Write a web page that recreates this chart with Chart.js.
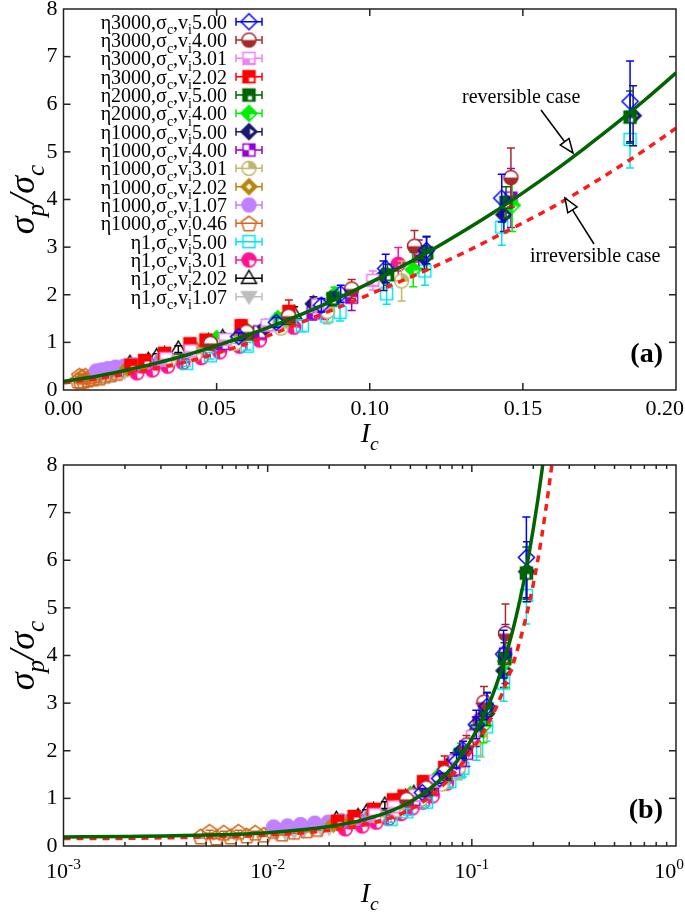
<!DOCTYPE html>
<html><head><meta charset="utf-8">
<script src="https://cdn.jsdelivr.net/npm/chart.js@4.4.0/dist/chart.umd.min.js"></script>
<style>
html,body{margin:0;padding:0;background:#fff;}
#wrap{position:relative;width:685px;height:912px;overflow:hidden;}
canvas{position:absolute;left:0;}
#c1{top:0;} #c2{top:456px;}
</style></head><body>
<div id="wrap"><canvas id="c1" width="685" height="456"></canvas><canvas id="c2" width="685" height="456"></canvas></div>
<script>
// ---------------- DATA ----------------
const topXTicks = [0, 0.05, 0.10, 0.15, 0.20];
const topXLabels = ['0.00', '0.05', '0.10', '0.15', '0.20'];
const yTicks = [0, 1, 2, 3, 4, 5, 6, 7, 8];
const logXMajor = [0.001, 0.01, 0.1, 1];
const logXExponents = ['-3', '-2', '-1', '0'];

const seriesEta = ['3000','3000','3000','3000','2000','2000','1000','1000','1000','1000','1000','1000','1','1','1','1'];
const seriesVi  = ['5.00','4.00','3.01','2.02','5.00','4.00','5.00','4.00','3.01','2.02','1.07','0.46','5.00','3.01','2.02','1.07'];

// model curves (reversible / irreversible)
const curveIc      = [0, 0.001, 0.002, 0.005, 0.01, 0.02, 0.03, 0.04, 0.05, 0.06, 0.07, 0.08, 0.09, 0.10, 0.11, 0.12, 0.13, 0.14, 0.15, 0.16, 0.17, 0.18, 0.19, 0.20, 0.21, 0.22, 0.23, 0.24, 0.25, 0.26];
const reversible   = [0.18, 0.19, 0.20, 0.23, 0.28, 0.41, 0.56, 0.73, 0.93, 1.15, 1.39, 1.65, 1.94, 2.25, 2.58, 2.93, 3.31, 3.71, 4.14, 4.59, 5.07, 5.57, 6.10, 6.66, 7.24, 7.85, 8.48, 9.14, 9.80, 10.5];
const irreversible = [0.15, 0.155, 0.16, 0.19, 0.23, 0.33, 0.45, 0.59, 0.77, 0.98, 1.22, 1.48, 1.74, 2.01, 2.28, 2.56, 2.86, 3.18, 3.51, 3.85, 4.23, 4.63, 5.05, 5.50, 5.98, 6.50, 7.05, 7.62, 8.20, 8.80];

// η3000, vi 5.00
const eta3000_v500_Ic  = [0.185, 0.1431, 0.1185, 0.1052, 0.0905, 0.0842, 0.0695, 0.0572];
const eta3000_v500_sig = [6.06, 4.03, 2.93, 2.55, 2.02, 1.78, 1.42, 1.12];
const eta3000_v500_err = [0.85, 0.50, 0.28, 0.30, 0.18, 0.14, 0.10, 0.08];
// η3000, vi 4.00
const eta3000_v400_Ic  = [0.1461, 0.1146, 0.0941, 0.0735, 0.0598, 0.0480];
const eta3000_v400_sig = [4.46, 3.02, 2.12, 1.55, 1.22, 0.98];
const eta3000_v400_err = [0.62, 0.33, 0.20, 0.12, 0.09, 0.07];
// η3000, vi 3.01
const eta3000_v301_Ic  = [0.1010, 0.0830, 0.0665, 0.0528, 0.0415, 0.0335];
const eta3000_v301_sig = [2.30, 1.78, 1.36, 1.06, 0.82, 0.66];
const eta3000_v301_err = [0.20, 0.14, 0.10, 0.08, 0.06, 0.05];
// η3000, vi 2.02
const eta3000_v202_Ic  = [0.0736, 0.0580, 0.0465, 0.0413, 0.0330, 0.0265, 0.0220];
const eta3000_v202_sig = [1.65, 1.35, 1.05, 0.97, 0.77, 0.62, 0.52];
const eta3000_v202_err = [0.24, 0.12, 0.09, 0.08, 0.06, 0.05, 0.04];
// η2000, vi 5.00
const eta2000_v500_Ic  = [0.1850, 0.1445, 0.1186, 0.1058, 0.0880, 0.0735, 0.0600];
const eta2000_v500_sig = [5.73, 3.94, 2.88, 2.42, 1.92, 1.50, 1.18];
const eta2000_v500_err = [0.55, 0.33, 0.35, 0.22, 0.15, 0.11, 0.08];
// η2000, vi 4.00
const eta2000_v400_Ic  = [0.1465, 0.1142, 0.0885, 0.0700, 0.0590, 0.0500];
const eta2000_v400_sig = [3.88, 2.53, 2.00, 1.50, 1.30, 1.08];
const eta2000_v400_err = [0.55, 0.36, 0.16, 0.11, 0.09, 0.08];
// η1000, vi 5.00
const eta1000_v500_Ic  = [0.1860, 0.1438, 0.1178, 0.1045, 0.0816, 0.0660];
const eta1000_v500_sig = [5.76, 3.68, 2.78, 2.40, 1.81, 1.32];
const eta1000_v500_err = [0.63, 0.35, 0.25, 0.31, 0.15, 0.10];
// η1000, vi 4.00
const eta1000_v400_Ic  = [0.1461, 0.1160, 0.0941, 0.0815, 0.0640, 0.0520];
const eta1000_v400_sig = [4.03, 2.85, 1.95, 1.62, 1.22, 0.98];
const eta1000_v400_err = [0.62, 0.30, 0.28, 0.15, 0.10, 0.08];
// η1000, vi 3.01
const eta1000_v301_Ic  = [0.1104, 0.0862, 0.0710, 0.0560, 0.0430, 0.0345];
const eta1000_v301_sig = [2.29, 1.65, 1.30, 0.98, 0.76, 0.62];
const eta1000_v301_err = [0.42, 0.25, 0.12, 0.09, 0.07, 0.05];
// η1000, vi 2.02
const eta1000_v202_Ic  = [0.0725, 0.0580, 0.0424, 0.0330, 0.0260, 0.0210];
const eta1000_v202_sig = [1.45, 1.12, 0.90, 0.68, 0.55, 0.46];
const eta1000_v202_err = [0.12, 0.09, 0.07, 0.06, 0.05, 0.04];
// η1000, vi 1.07
const eta1000_v107_Ic  = [0.0107, 0.0125, 0.0145, 0.0170, 0.0198, 0.0230, 0.0270, 0.0320];
const eta1000_v107_sig = [0.40, 0.42, 0.45, 0.48, 0.50, 0.53, 0.58, 0.64];
const eta1000_v107_err = [0.04, 0.04, 0.04, 0.04, 0.04, 0.05, 0.05, 0.05];
// η1000, vi 0.46
const eta1000_v046_Ic  = [0.0047, 0.0052, 0.0056, 0.0061, 0.0066, 0.0072, 0.0079, 0.0087, 0.0096, 0.0106, 0.0118, 0.0135, 0.0155, 0.0175];
const eta1000_v046_sig = [0.20, 0.30, 0.18, 0.28, 0.20, 0.30, 0.22, 0.28, 0.24, 0.32, 0.26, 0.30, 0.33, 0.36];
const eta1000_v046_err = [0.03, 0.03, 0.03, 0.03, 0.03, 0.03, 0.03, 0.03, 0.03, 0.03, 0.03, 0.03, 0.03, 0.03];
// η1, vi 5.00
const eta1_v500_Ic  = [0.1850, 0.1431, 0.1180, 0.1055, 0.0903, 0.0860, 0.0780, 0.0600, 0.0480, 0.0402];
const eta1_v500_sig = [5.26, 3.42, 2.50, 2.02, 1.63, 1.55, 1.35, 0.92, 0.72, 0.56];
const eta1_v500_err = [0.60, 0.38, 0.30, 0.22, 0.18, 0.16, 0.12, 0.08, 0.07, 0.06];
// η1, vi 3.01
const eta1_v301_Ic  = [0.1093, 0.0854, 0.0752, 0.0640, 0.0575, 0.0510, 0.0450, 0.0390, 0.0340, 0.0290, 0.0240];
const eta1_v301_sig = [2.64, 1.63, 1.32, 1.05, 0.92, 0.80, 0.68, 0.58, 0.50, 0.42, 0.36];
const eta1_v301_err = [0.35, 0.15, 0.12, 0.09, 0.08, 0.07, 0.06, 0.05, 0.05, 0.04, 0.04];
// η1, vi 2.02
const eta1_v202_Ic  = [0.0753, 0.0576, 0.0520, 0.0473, 0.0424, 0.0375, 0.0330, 0.0304, 0.0277, 0.0245, 0.0217];
const eta1_v202_sig = [1.60, 1.21, 1.10, 1.01, 0.92, 0.86, 0.74, 0.70, 0.62, 0.48, 0.56];
const eta1_v202_err = [0.15, 0.10, 0.09, 0.08, 0.07, 0.07, 0.06, 0.06, 0.05, 0.05, 0.05];
// η1, vi 1.07
const eta1_v107_Ic  = [0.0110, 0.0122, 0.0135, 0.0150, 0.0166, 0.0183, 0.0200, 0.0225, 0.0250];
const eta1_v107_sig = [0.26, 0.28, 0.30, 0.32, 0.34, 0.36, 0.38, 0.41, 0.44];
const eta1_v107_err = [0.03, 0.03, 0.03, 0.03, 0.03, 0.03, 0.03, 0.03, 0.03];

const seriesData = [
  [eta3000_v500_Ic, eta3000_v500_sig, eta3000_v500_err],
  [eta3000_v400_Ic, eta3000_v400_sig, eta3000_v400_err],
  [eta3000_v301_Ic, eta3000_v301_sig, eta3000_v301_err],
  [eta3000_v202_Ic, eta3000_v202_sig, eta3000_v202_err],
  [eta2000_v500_Ic, eta2000_v500_sig, eta2000_v500_err],
  [eta2000_v400_Ic, eta2000_v400_sig, eta2000_v400_err],
  [eta1000_v500_Ic, eta1000_v500_sig, eta1000_v500_err],
  [eta1000_v400_Ic, eta1000_v400_sig, eta1000_v400_err],
  [eta1000_v301_Ic, eta1000_v301_sig, eta1000_v301_err],
  [eta1000_v202_Ic, eta1000_v202_sig, eta1000_v202_err],
  [eta1000_v107_Ic, eta1000_v107_sig, eta1000_v107_err],
  [eta1000_v046_Ic, eta1000_v046_sig, eta1000_v046_err],
  [eta1_v500_Ic, eta1_v500_sig, eta1_v500_err],
  [eta1_v301_Ic, eta1_v301_sig, eta1_v301_err],
  [eta1_v202_Ic, eta1_v202_sig, eta1_v202_err],
  [eta1_v107_Ic, eta1_v107_sig, eta1_v107_err]
];

// ---------------- STYLE ----------------
const markerStyles = [
  {color:'#0000ff', shape:'diamondOpen'},
  {color:'#a52a2a', shape:'circleHalf'},
  {color:'#ee82ee', shape:'squareHalf'},
  {color:'#ff0000', shape:'squareCorner'},
  {color:'#006400', shape:'squareDot'},
  {color:'#00ee00', shape:'diamondCorner'},
  {color:'#191970', shape:'diamondRight'},
  {color:'#9400d3', shape:'squareChecker'},
  {color:'#bdb76b', shape:'circleQuarter'},
  {color:'#b8860b', shape:'diamondHole'},
  {color:'#c080ff', shape:'circleFill'},
  {color:'#d2691e', shape:'pentagonOpen'},
  {color:'#00e5ee', shape:'squareOpen'},
  {color:'#ff1493', shape:'circlePink'},
  {color:'#000000', shape:'triangleOpen'},
  {color:'#bebebe', shape:'triangleDown'}
];
const SERIF = '"Liberation Serif", "Times New Roman", serif';

function makeMarker(shape, color) {
  const S = 19, c = document.createElement('canvas');
  c.width = S; c.height = S;
  const g = c.getContext('2d');
  g.translate(S/2, S/2);
  g.lineWidth = 1.5; g.strokeStyle = color; g.fillStyle = color;
  const r = 7, q = 6;
  const diamond = (rr) => { g.beginPath(); g.moveTo(0,-rr); g.lineTo(rr,0); g.lineTo(0,rr); g.lineTo(-rr,0); g.closePath(); };
  const circle = (rr) => { g.beginPath(); g.arc(0,0,rr,0,Math.PI*2); };
  const white = '#ffffff';
  switch (shape) {
    case 'diamondOpen': diamond(8); g.stroke(); break;
    case 'circleHalf':
      g.fillStyle = white; circle(r); g.fill();
      g.fillStyle = color; g.beginPath(); g.arc(0,0,r,0,Math.PI); g.closePath(); g.fill();
      circle(r); g.stroke(); break;
    case 'squareHalf':
      g.fillStyle = white; g.fillRect(-q,-q,2*q,2*q);
      g.fillStyle = color; g.fillRect(-q,0,2*q,q);
      g.fillStyle = white; g.fillRect(1,1,q-2,q-2.5);
      g.strokeRect(-q,-q,2*q,2*q); break;
    case 'squareCorner':
      g.fillRect(-q,-q,2*q,2*q);
      g.fillStyle = white; g.fillRect(0,1,q-1,q-2);
      g.strokeRect(-q,-q,2*q,2*q); break;
    case 'squareDot':
      g.fillRect(-q,-q,2*q,2*q);
      g.fillStyle = white; g.fillRect(-1,1,q-2,q-2);
      g.strokeRect(-q,-q,2*q,2*q); break;
    case 'diamondCorner':
      diamond(8); g.fill();
      g.fillStyle = white; g.beginPath(); g.moveTo(1,1); g.lineTo(6,1); g.lineTo(1,6); g.closePath(); g.fill();
      diamond(8); g.stroke(); break;
    case 'diamondRight':
      diamond(8); g.fill();
      g.fillStyle = white; g.beginPath(); g.moveTo(1,-3); g.lineTo(5,0); g.lineTo(1,3); g.closePath(); g.fill();
      diamond(8); g.stroke(); break;
    case 'squareChecker':
      g.fillStyle = white; g.fillRect(-q,-q,2*q,2*q);
      g.fillStyle = color; g.fillRect(0,-q,q,q); g.fillRect(-q,0,q,q);
      g.strokeRect(-q,-q,2*q,2*q); break;
    case 'circleQuarter':
      g.fillStyle = white; circle(r); g.fill();
      g.fillStyle = color; g.beginPath(); g.moveTo(0,0); g.arc(0,0,r,-Math.PI/2,0); g.closePath(); g.fill();
      circle(r); g.stroke();
      g.beginPath(); g.moveTo(-r,0); g.lineTo(r,0); g.moveTo(0,0); g.lineTo(0,-r); g.stroke(); break;
    case 'diamondHole':
      diamond(8); g.fill();
      g.fillStyle = white; diamond(3); g.fill();
      diamond(8); g.stroke(); break;
    case 'circleFill': circle(r); g.fill(); circle(r); g.stroke(); break;
    case 'pentagonOpen':
      g.beginPath();
      for (let k = 0; k < 5; k++) { const a = -Math.PI/2 + k*2*Math.PI/5; const px = 8*Math.cos(a), py = 8*Math.sin(a)+0.8; k ? g.lineTo(px,py) : g.moveTo(px,py); }
      g.closePath(); g.stroke(); break;
    case 'squareOpen': g.strokeRect(-q,-q,2*q,2*q); break;
    case 'circlePink':
      circle(r); g.fill();
      g.fillStyle = white; g.beginPath(); g.moveTo(0,0); g.arc(0,0,r-1,0.15,Math.PI/2-0.15); g.closePath(); g.fill();
      circle(r); g.stroke(); break;
    case 'triangleOpen':
      g.beginPath(); g.moveTo(0,-8); g.lineTo(7.5,5); g.lineTo(-7.5,5); g.closePath(); g.stroke(); break;
    case 'triangleDown':
      g.beginPath(); g.moveTo(0,7); g.lineTo(7.5,-5); g.lineTo(-7.5,-5); g.closePath(); g.fill(); g.stroke(); break;
  }
  return c;
}
const markers = markerStyles.map(s => makeMarker(s.shape, s.color));

// rich text helpers (sub / superscripts)
function fontFor(size, style, weight) { return `${style||''} ${weight||''} ${size}px ${SERIF}`; }
function richWidth(ctx, parts, size, style) {
  let w = 0;
  parts.forEach(p => { const s = p[1] === 'n' ? size : size*0.7; ctx.font = fontFor(s, style); w += ctx.measureText(p[0]).width; });
  return w;
}
function drawRich(ctx, parts, x, y, size, align, style, maxRight) {
  const w = richWidth(ctx, parts, size, style);
  let cx = align === 'right' ? x - w : align === 'center' ? x - w/2 : x;
  if (maxRight !== undefined && cx + w > maxRight) cx = maxRight - w;
  ctx.textBaseline = 'alphabetic'; ctx.textAlign = 'left';
  parts.forEach(p => {
    const s = p[1] === 'n' ? size : size*0.7;
    const dy = p[1] === 'sub' ? size*0.28 : p[1] === 'sup' ? -size*0.42 : 0;
    ctx.font = fontFor(s, style);
    ctx.fillText(p[0], cx, y + dy);
    cx += ctx.measureText(p[0]).width;
  });
}

// ---------------- PLUGINS ----------------
const errorBarPlugin = {
  id: 'errbars',
  beforeDatasetDraw(chart, args) {
    const ds = chart.data.datasets[args.index];
    if (!ds.errs) return;
    const ctx = chart.ctx, a = chart.chartArea, y = chart.scales.y;
    ctx.save();
    ctx.beginPath(); ctx.rect(a.left, a.top, a.right-a.left, a.bottom-a.top); ctx.clip();
    ctx.strokeStyle = ds.errColor; ctx.lineWidth = 1.5;
    args.meta.data.forEach((el, i) => {
      const d = ds.data[i], e = ds.errs[i];
      const hi = y.getPixelForValue(d.y + e), lo = y.getPixelForValue(d.y - e), px = el.x;
      ctx.beginPath();
      ctx.moveTo(px, hi); ctx.lineTo(px, lo);
      ctx.moveTo(px-4, hi); ctx.lineTo(px+4, hi);
      ctx.moveTo(px-4, lo); ctx.lineTo(px+4, lo);
      ctx.stroke();
    });
    ctx.restore();
  }
};

function makeFramePlugin(xMajor, xMinor) {
  return {
    id: 'frame',
    afterDatasetsDraw(chart) {
      const ctx = chart.ctx, a = chart.chartArea, x = chart.scales.x, y = chart.scales.y;
      ctx.save();
      ctx.strokeStyle = '#222'; ctx.lineWidth = 1.5;
      ctx.strokeRect(a.left, a.top, a.right-a.left, a.bottom-a.top);
      const seg = (x1,y1,x2,y2) => { ctx.beginPath(); ctx.moveTo(x1,y1); ctx.lineTo(x2,y2); ctx.stroke(); };
      xMajor.forEach(v => { const px = x.getPixelForValue(v); if (px > a.left+1 && px < a.right-1) { seg(px,a.bottom,px,a.bottom-7); seg(px,a.top,px,a.top+7); } });
      xMinor.forEach(v => { const px = x.getPixelForValue(v); seg(px,a.bottom,px,a.bottom-4); seg(px,a.top,px,a.top+4); });
      yTicks.forEach(v => { const py = y.getPixelForValue(v); if (py > a.top+1 && py < a.bottom-1) { seg(a.left,py,a.left+7,py); seg(a.right,py,a.right-7,py); } });
      ctx.restore();
    }
  };
}

function makeTextPlugin(isTop) {
  return {
    id: 'texts',
    afterDraw(chart) {
      const ctx = chart.ctx, a = chart.chartArea, x = chart.scales.x;
      ctx.save();
      ctx.fillStyle = '#000';
      // y axis title
      ctx.save();
      ctx.translate(34, (a.top + a.bottom)/2);
      ctx.rotate(-Math.PI/2);
      drawRich(ctx, [['σ','n'],['p','sub'],['/σ','n'],['c','sub']], 0, 0, 36, 'center', 'italic');
      ctx.restore();
      // x axis title
      drawRich(ctx, [['I','n'],['c','sub']], (a.left + a.right)/2, isTop ? 442 : 446, 28, 'center', 'italic');
      // panel label
      ctx.font = fontFor(28, '', 'bold');
      ctx.textAlign = 'right'; ctx.textBaseline = 'alphabetic';
      ctx.fillText(isTop ? '(a)' : '(b)', 663, 362);
      if (isTop) {
        // x tick labels
        topXTicks.forEach((v, i) => {
          drawRich(ctx, [[topXLabels[i],'n']], x.getPixelForValue(v), 415, 22, 'center', '', 684);
        });
        // legend
        for (let i = 0; i < seriesEta.length; i++) {
          const yy = 21.7 + i*18.33;
          ctx.fillStyle = '#000';
          drawRich(ctx, [['η'+seriesEta[i]+',σ','n'],['c','sub'],[',v','n'],['i','sub'],[seriesVi[i],'n']], 227, yy + 7, 20, 'right', '');
          ctx.strokeStyle = markerStyles[i].color; ctx.lineWidth = 1.5;
          ctx.beginPath();
          ctx.moveTo(236, yy); ctx.lineTo(262, yy);
          ctx.moveTo(236, yy-4); ctx.lineTo(236, yy+4);
          ctx.moveTo(262, yy-4); ctx.lineTo(262, yy+4);
          ctx.stroke();
          ctx.drawImage(markers[i], 249 - markers[i].width/2, yy - markers[i].height/2);
        }
        // annotations
        ctx.fillStyle = '#000';
        ctx.font = fontFor(20);
        ctx.textAlign = 'left';
        ctx.fillText('reversible case', 462, 103);
        ctx.fillText('irreversible case', 530, 262);
        drawArrow(ctx, 541, 110, 573, 153);
        drawArrow(ctx, 594, 244, 565, 198);
      } else {
        // log tick labels 10^n
        logXMajor.forEach((v, i) => {
          ctx.fillStyle = '#000';
          drawRich(ctx, [['10','n'],[logXExponents[i],'sup']], x.getPixelForValue(v), 422, 22, 'center', '', 684);
        });
      }
      ctx.restore();
    }
  };
}

function drawArrow(ctx, x1, y1, x2, y2) {
  const ang = Math.atan2(y2-y1, x2-x1), L = 14, W = 5.5;
  const bx = x2 - L*Math.cos(ang), by = y2 - L*Math.sin(ang);
  ctx.save();
  ctx.strokeStyle = '#000'; ctx.lineWidth = 1.5;
  ctx.beginPath(); ctx.moveTo(x1,y1); ctx.lineTo(bx,by); ctx.stroke();
  ctx.beginPath();
  ctx.moveTo(x2,y2);
  ctx.lineTo(bx + W*Math.sin(ang), by - W*Math.cos(ang));
  ctx.lineTo(bx - W*Math.sin(ang), by + W*Math.cos(ang));
  ctx.closePath();
  ctx.fillStyle = '#fff'; ctx.fill(); ctx.stroke();
  ctx.restore();
}

// ---------------- CHARTS ----------------
function buildDatasets(logMode) {
  const pts = (vals) => curveIc.map((x, i) => ({x, y: vals[i]})).filter(p => !logMode || p.x > 0);
  const ds = [
    {label:'reversible case', data: pts(reversible), showLine:true, borderColor:'#006400', borderWidth:3.5, pointRadius:0, cubicInterpolationMode:'monotone', fill:false},
    {label:'irreversible case', data: pts(irreversible), showLine:true, borderColor:'#ff1a1a', borderWidth:3.5, borderDash:[7,6], borderCapStyle:'butt', pointRadius:0, cubicInterpolationMode:'monotone', fill:false}
  ];
  seriesData.forEach((s, i) => {
    ds.push({
      label: 'η' + seriesEta[i] + ',σc,vi' + seriesVi[i],
      data: s[0].map((x, j) => ({x, y: s[1][j]})),
      errs: s[2],
      errColor: markerStyles[i].color,
      pointStyle: markers[i],
      pointRadius: 8,
      showLine: false
    });
  });
  return ds;
}

const yScale = {
  type: 'linear', min: 0, max: 8,
  afterBuildTicks: s => { s.ticks = yTicks.map(v => ({value: v})); },
  ticks: {font: {family: SERIF, size: 22}, color: '#000', padding: 6},
  grid: {display: false, drawTicks: false},
  border: {display: false},
  afterFit: s => { s.width = 63.5; s.paddingTop = 0; s.paddingBottom = 0; }
};

const common = {
  responsive: false, animation: false, devicePixelRatio: 1, events: [],
  layout: {padding: {top: 6, right: 9, left: 0, bottom: 0}},
  plugins: {legend: {display: false}, tooltip: {enabled: false}}
};

new Chart(document.getElementById('c1'), {
  type: 'scatter',
  data: {datasets: buildDatasets(false)},
  options: Object.assign({}, common, {
    scales: {
      x: {
        type: 'linear', min: 0, max: 0.2,
        afterBuildTicks: s => { s.ticks = topXTicks.map(v => ({value: v})); },
        ticks: {display: false},
        grid: {display: false, drawTicks: false},
        border: {display: false},
        afterFit: s => { s.height = 66; s.paddingLeft = 0; s.paddingRight = 0; }
      },
      y: yScale
    }
  }),
  plugins: [errorBarPlugin, makeFramePlugin(topXTicks, []), makeTextPlugin(true)]
});

const logMinor = [];
[0.001, 0.01, 0.1].forEach(d => { for (let k = 2; k <= 9; k++) logMinor.push(d*k); });

new Chart(document.getElementById('c2'), {
  type: 'scatter',
  data: {datasets: buildDatasets(true)},
  options: Object.assign({}, common, {
    scales: {
      x: {
        type: 'logarithmic', min: 0.001, max: 1,
        afterBuildTicks: s => { s.ticks = logXMajor.map(v => ({value: v})); },
        ticks: {display: false},
        grid: {display: false, drawTicks: false},
        border: {display: false},
        afterFit: s => { s.height = 66; s.paddingLeft = 0; s.paddingRight = 0; }
      },
      y: Object.assign({}, yScale)
    }
  }),
  plugins: [errorBarPlugin, makeFramePlugin(logXMajor, logMinor), makeTextPlugin(false)]
});
</script>
</body></html>
